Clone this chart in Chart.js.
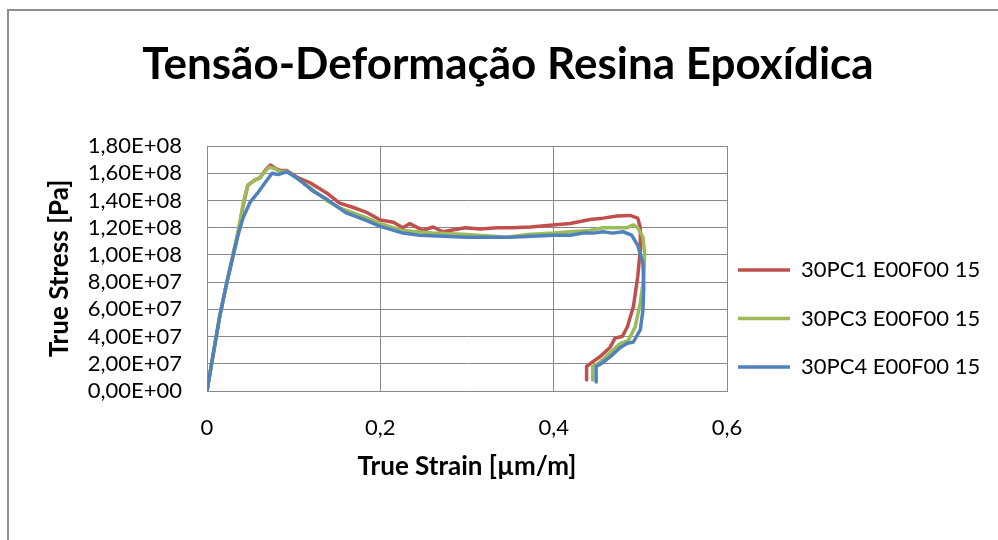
<!DOCTYPE html>
<html><head><meta charset="utf-8">
<script src="https://cdn.jsdelivr.net/npm/chart.js@4.4.1/dist/chart.umd.min.js"></script>
<style>
html,body{margin:0;padding:0;background:#fff;}
#wrap{position:relative;width:998px;height:540px;overflow:hidden;}
#frame{position:absolute;left:7px;top:9px;width:1200px;height:700px;border-left:2px solid #8e8e8e;border-top:2px solid #8e8e8e;}
canvas{position:absolute;left:0;top:0;}
</style></head><body>
<div id="wrap"><div id="frame"></div><canvas id="c" width="998" height="540"></canvas></div>
<script>
const chartTitle = 'Tensão-Deformação Resina Epoxídica';
const xTitle = 'True Strain [µm/m]';
const yTitle = 'True Stress [Pa]';
const seriesNames = ['30PC1 E00F00 15', '30PC3 E00F00 15', '30PC4 E00F00 15'];
const seriesColors = ['#C0504D', '#9BBB59', '#4F81BD'];

// 30PC1 E00F00 15
const strain1 = [0, 0.007, 0.015, 0.023, 0.030, 0.036, 0.042, 0.047, 0.055, 0.061, 0.067, 0.073, 0.078, 0.084, 0.092, 0.104, 0.119, 0.138, 0.153, 0.168, 0.185, 0.200, 0.215, 0.226, 0.234, 0.249, 0.261, 0.272, 0.298, 0.315, 0.335, 0.353, 0.373, 0.399, 0.419, 0.442, 0.457, 0.473, 0.488, 0.497, 0.500, 0.500, 0.497, 0.492, 0.485, 0.479, 0.471, 0.465, 0.453, 0.444, 0.438, 0.438];
const stress1 = [0, 0.265e8, 0.56e8, 0.80e8, 1.00e8, 1.17e8, 1.37e8, 1.51e8, 1.55e8, 1.565e8, 1.62e8, 1.66e8, 1.64e8, 1.62e8, 1.62e8, 1.57e8, 1.53e8, 1.455e8, 1.38e8, 1.35e8, 1.31e8, 1.256e8, 1.24e8, 1.20e8, 1.23e8, 1.18e8, 1.205e8, 1.17e8, 1.20e8, 1.19e8, 1.20e8, 1.20e8, 1.205e8, 1.22e8, 1.23e8, 1.26e8, 1.27e8, 1.285e8, 1.29e8, 1.27e8, 1.20e8, 1.04e8, 0.84e8, 0.62e8, 0.47e8, 0.40e8, 0.39e8, 0.32e8, 0.25e8, 0.21e8, 0.18e8, 0.08e8];

// 30PC3 E00F00 15
const strain3 = [0, 0.007, 0.015, 0.023, 0.030, 0.036, 0.0415, 0.047, 0.055, 0.061, 0.067, 0.072, 0.078, 0.084, 0.092, 0.104, 0.122, 0.138, 0.153, 0.168, 0.185, 0.200, 0.215, 0.226, 0.260, 0.300, 0.346, 0.370, 0.400, 0.419, 0.442, 0.457, 0.473, 0.485, 0.492, 0.497, 0.503, 0.505, 0.504, 0.500, 0.494, 0.486, 0.477, 0.465, 0.453, 0.445, 0.445];
const stress3 = [0, 0.265e8, 0.56e8, 0.80e8, 1.00e8, 1.17e8, 1.37e8, 1.51e8, 1.55e8, 1.565e8, 1.615e8, 1.645e8, 1.635e8, 1.61e8, 1.615e8, 1.56e8, 1.48e8, 1.40e8, 1.345e8, 1.31e8, 1.27e8, 1.23e8, 1.20e8, 1.18e8, 1.16e8, 1.15e8, 1.13e8, 1.15e8, 1.16e8, 1.17e8, 1.18e8, 1.20e8, 1.20e8, 1.20e8, 1.22e8, 1.20e8, 1.13e8, 1.01e8, 0.84e8, 0.65e8, 0.47e8, 0.37e8, 0.35e8, 0.28e8, 0.21e8, 0.18e8, 0.08e8];

// 30PC4 E00F00 15
const strain4 = [0, 0.007, 0.015, 0.023, 0.030, 0.036, 0.0415, 0.050, 0.059, 0.067, 0.075, 0.082, 0.092, 0.104, 0.122, 0.138, 0.160, 0.185, 0.200, 0.226, 0.245, 0.300, 0.350, 0.400, 0.419, 0.434, 0.446, 0.457, 0.468, 0.480, 0.490, 0.497, 0.503, 0.504, 0.503, 0.500, 0.492, 0.485, 0.477, 0.465, 0.456, 0.449, 0.449];
const stress4 = [0, 0.265e8, 0.56e8, 0.80e8, 0.99e8, 1.15e8, 1.27e8, 1.39e8, 1.46e8, 1.53e8, 1.60e8, 1.59e8, 1.61e8, 1.565e8, 1.47e8, 1.41e8, 1.31e8, 1.25e8, 1.21e8, 1.16e8, 1.145e8, 1.13e8, 1.13e8, 1.145e8, 1.145e8, 1.16e8, 1.16e8, 1.17e8, 1.16e8, 1.17e8, 1.145e8, 1.07e8, 0.94e8, 0.76e8, 0.595e8, 0.45e8, 0.36e8, 0.35e8, 0.32e8, 0.25e8, 0.205e8, 0.18e8, 0.066e8];

const xMin = 0, xMax = 0.6, xStep = 0.2;
const yMin = 0, yMax = 1.8e8, yStep = 2e7;

function pts(xs, ys) { return xs.map((x, i) => ({x: x, y: ys[i]})); }
function sci(v) {
  if (Math.abs(v) < 1e-9) return '0,00E+00';
  const e = Math.floor(Math.log10(Math.abs(v)) + 1e-9);
  const m = v / Math.pow(10, e);
  return m.toFixed(2).replace('.', ',') + 'E' + (e < 0 ? '-' : '+') + String(Math.abs(e)).padStart(2, '0');
}

const allX = [strain1, strain3, strain4];
const allY = [stress1, stress3, stress4];
// blue first so it is drawn on top; legend reversed to keep red, green, blue order
const datasets = [2, 1, 0].map(i => ({
  label: seriesNames[i],
  data: pts(allX[i], allY[i]),
  borderColor: seriesColors[i],
  backgroundColor: seriesColors[i],
  borderWidth: 3.5,
  pointRadius: 0,
  showLine: true,
  tension: 0,
  borderJoinStyle: 'round',
  borderCapStyle: 'round'
}));

const gridColor = '#888888';
const fontFam = 'Lato, "Noto Sans", sans-serif';

const layoutFix = {
  id: 'layoutFix',
  afterInit(chart) {
    const lg = chart.legend;
    const f = lg.fit.bind(lg);
    lg.fit = function () { f(); this.width = 271; };
  },
  afterLayout(chart) {
    const lg = chart.legend;
    const dx = lg.options.labels.padding - 11;
    lg.left -= dx; lg.right -= dx;
    lg.top = 218.5; lg.bottom = 418.5;
  }
};

new Chart(document.getElementById('c'), {
  type: 'scatter',
  data: { datasets: datasets },
  options: {
    responsive: false,
    animation: false,
    layout: { padding: { left: 18, right: 0, top: 0, bottom: 0 } },
    plugins: {
      tooltip: { enabled: false },
      title: {
        display: true, text: chartTitle, color: '#000',
        font: { family: fontFam, size: 44, weight: 'bold' },
        padding: { top: 38.6, bottom: 54.6 }
      },
      legend: {
        position: 'right', reverse: true,
        labels: {
          usePointStyle: true, pointStyle: 'line', pointStyleWidth: 52,
          padding: 26.5, color: '#000',
          font: { family: fontFam, size: 22 }
        }
      }
    },
    scales: {
      x: {
        type: 'linear', min: xMin, max: xMax,
        afterFit(s) { s.height = 149; },
        ticks: { stepSize: xStep, autoSkip: false, color: '#000', font: { family: fontFam, size: 22 }, padding: 24,
          callback: v => String(Math.round(v * 10) / 10).replace('.', ',') },
        grid: { color: gridColor, lineWidth: 1, drawTicks: false },
        border: { color: gridColor, width: 1 },
        title: { display: true, text: xTitle, color: '#000', font: { family: fontFam, size: 26, weight: 'bold' }, padding: { top: 0, bottom: 57.4 } }
      },
      y: {
        type: 'linear', min: yMin, max: yMax,
        afterFit(s) { s.width = 189; },
        ticks: { stepSize: yStep, autoSkip: false, color: '#000', font: { family: fontFam, size: 22, lineHeight: 1 }, padding: 25, callback: v => sci(v) },
        grid: { color: gridColor, lineWidth: 1, drawTicks: false },
        border: { color: gridColor, width: 1 },
        title: { display: true, text: yTitle, color: '#000', font: { family: fontFam, size: 26, weight: 'bold' }, padding: { top: 26.4, bottom: 0 } }
      }
    }
  },
  plugins: [layoutFix]
});
</script>
</body></html>
